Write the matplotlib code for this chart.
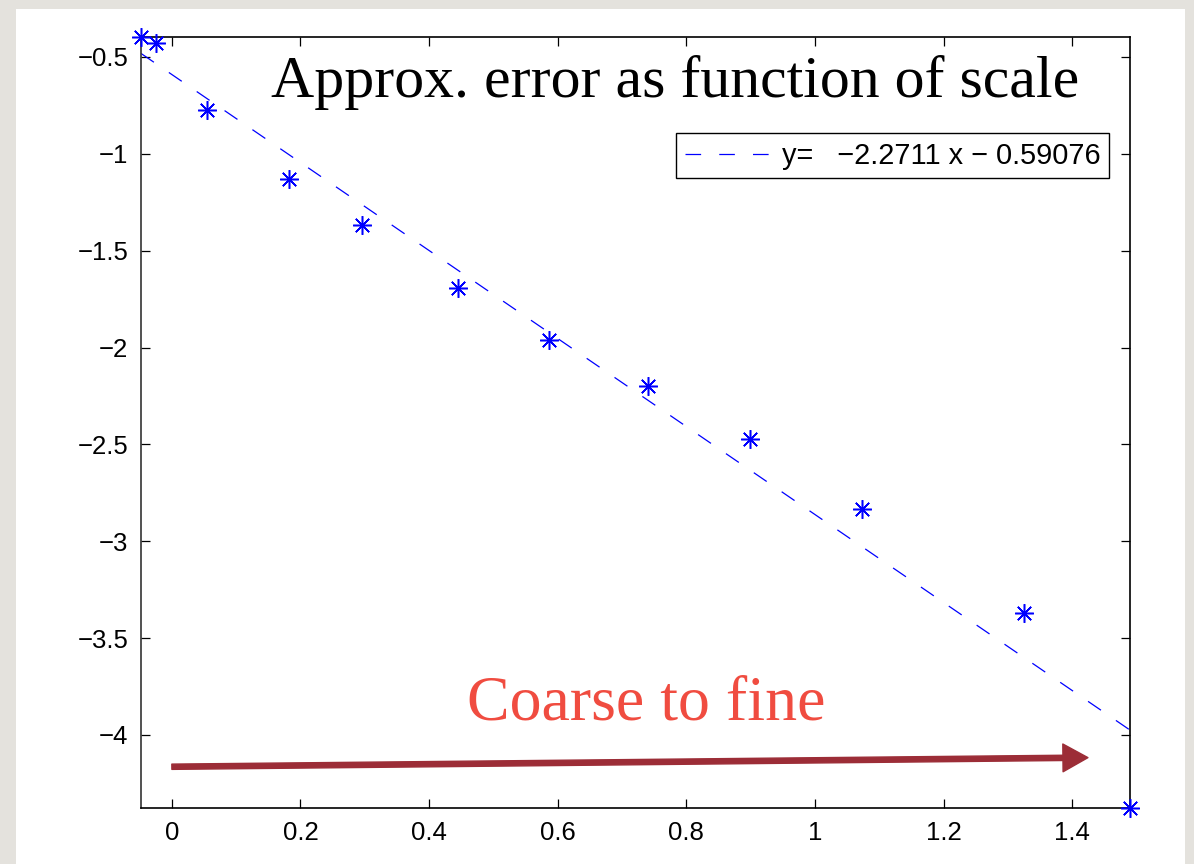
import matplotlib.pyplot as plt
import numpy as np
from matplotlib.patches import Rectangle

# log-error measurements at each scale
scale = np.array([-0.048, -0.025, 0.054, 0.182, 0.296, 0.445,
                  0.587, 0.741, 0.899, 1.073, 1.3255, 1.490])
log_error = np.array([-0.397, -0.426, -0.775, -1.131, -1.368, -1.695,
                      -1.962, -2.198, -2.474, -2.835, -3.372, -4.377])

# least-squares fit shown in the legend
fit_slope = -2.2711
fit_intercept = -0.59076

x_ticks = [0, 0.2, 0.4, 0.6, 0.8, 1.0, 1.2, 1.4]
x_tick_labels = ["0", "0.2", "0.4", "0.6", "0.8", "1", "1.2", "1.4"]
y_ticks = [-4, -3.5, -3, -2.5, -2, -1.5, -1, -0.5]
y_tick_labels = ["\u22124", "\u22123.5", "\u22123", "\u22122.5", "\u22122",
                 "\u22121.5", "\u22121", "\u22120.5"]

# arrow from coarse to fine (data coordinates)
arrow_tail = (0.0, -4.164)
arrow_tip = (1.4246, -4.117)

W, H = 1194, 864
fig = plt.figure(figsize=(W / 100, H / 100), dpi=100, facecolor="#e4e2dd")
fig.patches.append(Rectangle((16 / W, 0), 1169 / W, 1 - 9 / H,
                             transform=fig.transFigure, facecolor="white",
                             edgecolor="none", zorder=-10))

ax = fig.add_axes([141 / W, 1 - 808 / H, 989 / W, 771 / H])
ax.set_facecolor("white")

blue = "#0000ff"
fit_x = np.array([scale.min(), scale.max()])
ax.plot(fit_x, fit_slope * fit_x + fit_intercept, color=blue, lw=0.9,
        dashes=(12.5, 14.5), clip_on=False,
        label=f"y=   \u2212{abs(fit_slope)} x \u2212 {abs(fit_intercept)}")
ax.plot(scale, log_error, linestyle="none", marker=(8, 2, 0), ms=13.5,
        mew=1.1, color=blue, clip_on=False, zorder=5)

ax.set_xlim(scale.min(), scale.max())
ax.set_ylim(log_error.min(), log_error.max())
ax.set_xticks(x_ticks, x_tick_labels)
ax.set_yticks(y_ticks, y_tick_labels)
ax.tick_params(direction="in", length=6.5, width=0.9, top=True, right=True,
               labelsize=18.5, pad=9)
for lbl in ax.get_xticklabels() + ax.get_yticklabels():
    lbl.set_family(["Liberation Sans", "DejaVu Sans"])
for sp in ax.spines.values():
    sp.set_linewidth(1.2)
    sp.set_color("black")
ax.spines["left"].set_color("#333333")

leg = ax.legend(loc="upper right", bbox_to_anchor=(1109 / W, 1 - 133 / H),
                bbox_transform=fig.transFigure, borderaxespad=0,
                fancybox=False, framealpha=1, edgecolor="black",
                handlelength=3.0, handletextpad=0.35, borderpad=0.3,
                prop={"family": "Liberation Sans", "size": 20.8})
leg.get_frame().set_linewidth(1.0)

ax.annotate("", xy=arrow_tip, xytext=arrow_tail,
            arrowprops=dict(arrowstyle="simple,head_length=1.8,head_width=2.0,tail_width=0.38",
                            mutation_scale=10, color="#9c2d37",
                            shrinkA=0, shrinkB=0))

fig.text(675.5 / W, 1 - 97 / H, "Approx. error as function of scale",
         ha="center", va="baseline", fontsize=43, family="Liberation Serif",
         color="black")
fig.text(646.5 / W, 1 - 720 / H, "Coarse to fine", ha="center",
         va="baseline", fontsize=46, family="Liberation Serif",
         color="#f04c40")

fig.savefig("out.png", dpi=100, facecolor=fig.get_facecolor())
